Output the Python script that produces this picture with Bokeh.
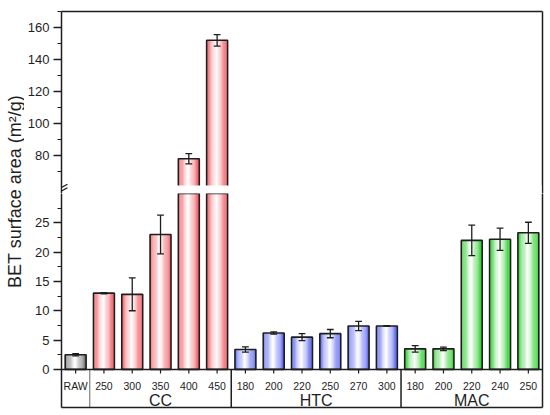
import numpy as np
from bokeh.plotting import figure
from bokeh.models import (Range1d, FixedTicker, LinearAxis, Span, BoxAnnotation,
                          Label, Arrow, ColumnDataSource)
from bokeh.layouts import row, column
from bokeh.embed import file_html
from bokeh.resources import INLINE
from bokeh.core.properties import value

# ---------------- data ----------------
categories = ["RAW", "250", "300", "350", "400", "450",
              "180", "200", "220", "250", "270", "300",
              "180", "200", "220", "240", "250"]
group_names = ["", "CC", "HTC", "MAC"]
group_sizes = [1, 5, 6, 5]
values = [2.5, 13.0, 12.8, 23.0, 78.0, 152.0,
          3.4, 6.2, 5.5, 6.1, 7.4, 7.4,
          3.5, 3.5, 22.0, 22.2, 23.3]
errors = [0.2, 0.1, 2.8, 3.3, 3.2, 3.6,
          0.45, 0.2, 0.6, 0.7, 0.8, 0.0,
          0.55, 0.3, 2.6, 1.9, 1.8]
lower_ticks = [0, 5, 10, 15, 20, 25]
lower_minor = [2.5, 7.5, 12.5, 17.5, 22.5, 27.5]
upper_ticks = [80, 100, 120, 140, 160]
upper_minor = [70, 90, 110, 130, 150, 170]
y_label = "BET surface area (m²/g)"

# ---------------- style ----------------
FONT = "Liberation Sans"
INK = "#1e1e1e"
BASE = {"": (110, 110, 110), "CC": (240, 88, 96), "HTC": (86, 98, 238), "MAC": (34, 205, 34)}
BAR_W = 0.74
N_STRIPS = 18

UP_RANGE = (56.3, 170.0)
LOW_RANGE = (-6.5, 30.0)
GAP_TOP = 61.3
TOP_B = 11
UP_FRAME_H = 182
UP_H = TOP_B + UP_FRAME_H
LOW_H = 217
LAB_W = 24
LEFT_B, RIGHT_B = 36, 4
FRAME_W = 482
W = LEFT_B + FRAME_W + RIGHT_B
X_RANGE = (-0.5, len(values) - 0.5)

idx = list(range(len(values)))
grp_of_bar = []
for g, n in zip(group_names, group_sizes):
    grp_of_bar += [g] * n

# gradient strips (cylinder-like fill)
sx, stop, scol = [], [], []
for i, (v, g) in enumerate(zip(values, grp_of_bar)):
    base = BASE[g]
    for k in range(N_STRIPS):
        t = (k + 0.5) / N_STRIPS
        f = min(1.0, abs(t - 0.47) / 0.5) ** 1.05
        c = tuple(int(round(255 * (1 - f) + ch * f)) for ch in base)
        sx.append(i - BAR_W / 2 + t * BAR_W)
        stop.append(v)
        scol.append("#%02x%02x%02x" % c)
strips = ColumnDataSource(dict(x=sx, top=stop, color=scol))
bars = ColumnDataSource(dict(x=idx, top=values,
                             lo=[v - e for v, e in zip(values, errors)],
                             hi=[v + e for v, e in zip(values, errors)],
                             xl=[i - 0.12 for i in idx], xr=[i + 0.12 for i in idx]))

xr = Range1d(*X_RANGE)


def line_axis(**kw):
    return LinearAxis(ticker=FixedTicker(ticks=[]), major_tick_out=0, major_tick_in=0,
                      minor_tick_out=0, minor_tick_in=0, major_label_text_font_size="0px",
                      axis_line_color=INK, axis_line_width=1.5, major_label_standoff=0, **kw)


def panel(yr, height, ticks, minor, top_b, bot_b):
    p = figure(width=W, height=height, x_range=xr, y_range=Range1d(*yr),
               output_backend="svg", toolbar_location=None,
               x_axis_location=None, y_axis_location=None,
               min_border_left=LEFT_B, min_border_right=RIGHT_B,
               min_border_top=top_b, min_border_bottom=bot_b,
               outline_line_color=None)
    p.xgrid.grid_line_color = None
    p.ygrid.grid_line_color = None
    yax = LinearAxis(ticker=FixedTicker(ticks=ticks, minor_ticks=minor),
                     axis_line_color=INK, axis_line_width=1.5,
                     major_tick_out=8, major_tick_in=0, minor_tick_out=4, minor_tick_in=0,
                     major_tick_line_color=INK, minor_tick_line_color=INK,
                     major_tick_line_width=1.5, minor_tick_line_width=1.2,
                     major_label_text_font=FONT, major_label_text_font_size="13px",
                     major_label_text_color=INK, major_label_standoff=4)
    p.add_layout(yax, "left")
    p.add_layout(line_axis(), "right")
    p.vbar(x="x", top="top", bottom=0, width=BAR_W / N_STRIPS * 1.08, source=strips,
           fill_color="color", line_color=None)
    p.vbar(x="x", top="top", bottom=0, width=BAR_W, source=bars,
           fill_color=None, line_color=INK, line_width=1.6)
    p.segment(x0="x", y0="lo", x1="x", y1="hi", source=bars, line_color=INK, line_width=1.3)
    p.segment(x0="xl", y0="hi", x1="xr", y1="hi", source=bars, line_color=INK, line_width=1.3)
    p.segment(x0="xl", y0="lo", x1="xr", y1="lo", source=bars, line_color=INK, line_width=1.3)
    return p


# ---------------- upper panel ----------------
up = panel(UP_RANGE, UP_H, upper_ticks, upper_minor, TOP_B, 0)
up.add_layout(line_axis(), "above")
up.add_layout(BoxAnnotation(bottom=UP_RANGE[0], top=GAP_TOP, left=X_RANGE[0] + 0.03,
                            right=X_RANGE[1] - 0.03, fill_color="white", fill_alpha=1.0,
                            line_color=None))
# break marks "//" on the left axis
px_per_x = FRAME_W / (X_RANGE[1] - X_RANGE[0])
px_per_y = UP_FRAME_H / (UP_RANGE[1] - UP_RANGE[0])
yc = (UP_RANGE[0] + GAP_TOP) / 2
for dy in (-1.8, 1.8):
    up.add_layout(Arrow(end=None,
                        x_start=X_RANGE[0] - 7 / px_per_x, y_start=yc + (dy - 3.5) / px_per_y,
                        x_end=X_RANGE[0] + 6 / px_per_x, y_end=yc + (dy + 3.5) / px_per_y,
                        line_color=INK, line_width=1.3))

# ---------------- lower panel ----------------
low = panel(LOW_RANGE, LOW_H, lower_ticks, lower_minor, 0, 3)
low.add_layout(line_axis(), "below")
low.add_layout(Span(location=0, dimension="width", line_color=INK, line_width=1.5))
low.segment(x0=idx, y0=[0] * len(idx), x1=idx, y1=[-0.7] * len(idx),
            line_color=INK, line_width=1.2)
bounds = list(np.cumsum(group_sizes)[:-1] - 0.5)
low.segment(x0=bounds, y0=[LOW_RANGE[0]] * len(bounds), x1=bounds, y1=[0] * len(bounds),
            line_color=["#666666"] + [INK] * (len(bounds) - 1),
            line_width=[1.0] + [1.5] * (len(bounds) - 1))
low.text(x=idx, y=[-2.75] * len(idx), text=categories, text_font=value(FONT),
         text_font_size="10.5px", text_align="center", text_baseline="middle",
         text_color=INK)
starts = np.concatenate([[0], np.cumsum(group_sizes)[:-1]])
gx, gt = [], []
for g, s, n in zip(group_names, starts, group_sizes):
    if g:
        gx.append(s + (n - 1) / 2)
        gt.append(g)
low.text(x=gx, y=[-5.3] * len(gx), text=gt, text_font=value(FONT),
         text_font_size="16px", text_align="center", text_baseline="middle",
         text_color=INK)

# ---------------- y label ----------------
TOT_H = UP_H + LOW_H
lab = figure(width=LAB_W, height=TOT_H, x_range=Range1d(0, LAB_W), y_range=Range1d(0, TOT_H),
             output_backend="svg", toolbar_location=None, x_axis_location=None,
             y_axis_location=None, min_border=0, outline_line_color=None)
lab.xgrid.grid_line_color = None
lab.ygrid.grid_line_color = None
lab.add_layout(Label(x=14, y=TOT_H - 191, text=y_label, angle=np.pi / 2,
                     text_align="center", text_baseline="middle", text_font=FONT,
                     text_font_size="18px", text_color=INK))

layout = row(lab, column(up, low))
open("out.html", "w").write(file_html(layout, INLINE))
